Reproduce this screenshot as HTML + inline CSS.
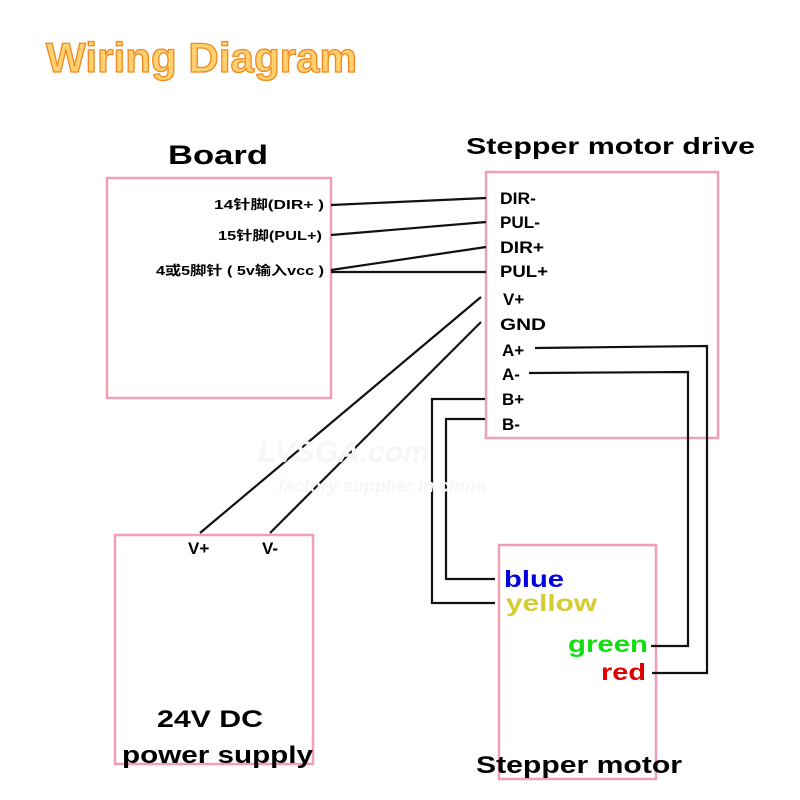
<!DOCTYPE html>
<html><head><meta charset="utf-8"><style>
html,body{margin:0;padding:0;background:#fff;}
svg{display:block;}
text{font-family:"Liberation Sans","Noto Sans CJK SC",sans-serif;font-weight:bold;}
</style></head><body>
<svg width="800" height="800" viewBox="0 0 800 800" xmlns="http://www.w3.org/2000/svg">
<rect width="800" height="800" fill="#fff"/>
<text x="46" y="72" font-size="42" fill="#ffd070" stroke="#f08a20" stroke-width="1.3" font-weight="normal" textLength="311" lengthAdjust="spacingAndGlyphs">Wiring Diagram</text>
<g fill="none" stroke="#f0a0b4" stroke-width="2.5">
<rect x="107" y="178" width="224" height="220"/>
<rect x="486" y="172" width="232" height="266"/>
<rect x="115" y="535" width="198" height="229"/>
<rect x="499" y="545" width="157" height="234"/>
</g>
<text x="168" y="164" font-size="27" fill="#000" textLength="100" lengthAdjust="spacingAndGlyphs">Board</text>
<text x="466" y="154" font-size="23" fill="#000" textLength="289" lengthAdjust="spacingAndGlyphs">Stepper motor drive</text>
<g font-size="13" fill="#000">
<text x="214" y="209" textLength="110" lengthAdjust="spacingAndGlyphs">14针脚(DIR+ )</text>
<text x="218" y="240" textLength="104" lengthAdjust="spacingAndGlyphs">15针脚(PUL+)</text>
<text x="156" y="275" textLength="168" lengthAdjust="spacingAndGlyphs">4或5脚针 ( 5v输入vcc )</text>
</g>
<g font-size="17" fill="#000">
<text x="500" y="204" textLength="36" lengthAdjust="spacingAndGlyphs">DIR-</text>
<text x="500" y="228" textLength="40" lengthAdjust="spacingAndGlyphs">PUL-</text>
<text x="500" y="253" textLength="44" lengthAdjust="spacingAndGlyphs">DIR+</text>
<text x="500" y="277" textLength="48" lengthAdjust="spacingAndGlyphs">PUL+</text>
<text x="503" y="305">V+</text>
<text x="500" y="330" textLength="46" lengthAdjust="spacingAndGlyphs">GND</text>
<text x="502" y="356">A+</text>
<text x="502" y="380">A-</text>
<text x="502" y="405">B+</text>
<text x="502" y="430">B-</text>
</g>
<g fill="none" stroke="#111" stroke-width="2.2">
<line x1="331" y1="205" x2="486" y2="198"/>
<line x1="331" y1="235" x2="486" y2="222"/>
<line x1="331" y1="270" x2="486" y2="247"/>
<line x1="331" y1="272" x2="486" y2="272"/>
<line x1="481" y1="297" x2="200" y2="533"/>
<line x1="481" y1="322" x2="270" y2="533"/>
<polyline points="535,348 707,346 707,673 652,673"/>
<polyline points="529,373 688,372 688,646 651,646"/>
<polyline points="485,399 432,399 432,603 495,603"/>
<polyline points="485,419 446,419 446,579 495,579"/>
</g>
<text x="188" y="554" font-size="17" fill="#000">V+</text>
<text x="262" y="554" font-size="17" fill="#000">V-</text>
<text x="157" y="727" font-size="24" fill="#000" textLength="106" lengthAdjust="spacingAndGlyphs">24V DC</text>
<text x="122" y="763" font-size="24" fill="#000" textLength="191" lengthAdjust="spacingAndGlyphs">power supply</text>
<text x="476" y="773" font-size="24" fill="#000" textLength="206" lengthAdjust="spacingAndGlyphs">Stepper motor</text>
<text x="504" y="587" font-size="23" fill="#0000e0" textLength="60" lengthAdjust="spacingAndGlyphs">blue</text>
<text x="506" y="611" font-size="23" fill="#d4cc30" textLength="91" lengthAdjust="spacingAndGlyphs">yellow</text>
<text x="568" y="652" font-size="23" fill="#10e010" textLength="80" lengthAdjust="spacingAndGlyphs">green</text>
<text x="601" y="680" font-size="23" fill="#e00000" textLength="45" lengthAdjust="spacingAndGlyphs">red</text>
<text x="258" y="462" font-size="30" fill="#f6f6f6" font-style="italic">LVSGA.com</text>
<text x="278" y="492" font-size="18" fill="#f6f6f6" font-style="italic">factory supplier in china</text>
</svg>
</body></html>
